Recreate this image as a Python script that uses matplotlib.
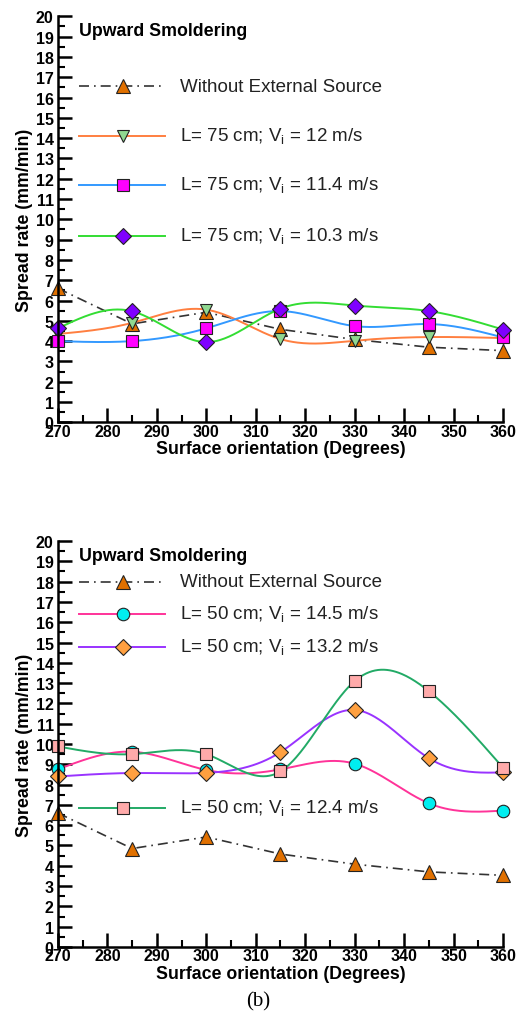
import matplotlib
matplotlib.use("Agg")
import matplotlib.pyplot as plt
import numpy as np
from matplotlib.ticker import MultipleLocator

plt.rcParams['font.family'] = ['Liberation Sans', 'DejaVu Sans']

angles = [270, 285, 300, 315, 330, 345, 360]

# no external source (same in both panels)
no_source = [6.6, 4.85, 5.42, 4.58, 4.08, 3.7, 3.53]

# panel (a): L = 75 cm
l75_v12 = [4.35, 4.9, 5.55, 4.1, 4.02, 4.2, 4.15]
l75_v114 = [4.0, 4.0, 4.63, 5.48, 4.74, 4.84, 4.18]
l75_v103 = [4.63, 5.47, 3.95, 5.6, 5.75, 5.48, 4.57]

# panel (b): L = 50 cm
l50_v145 = [8.75, 9.62, 8.72, 8.75, 9.03, 7.08, 6.72]
l50_v132 = [8.4, 8.57, 8.58, 9.6, 11.68, 9.3, 8.6]
l50_v124 = [9.88, 9.5, 9.5, 8.65, 13.1, 12.6, 8.83]


def spline(x, y, n=300):
    # natural cubic spline through the points, only used for the drawn curve
    x = np.asarray(x, float)
    y = np.asarray(y, float)
    k = len(x)
    h = np.diff(x)
    A = np.zeros((k, k))
    r = np.zeros(k)
    A[0, 0] = A[-1, -1] = 1
    for i in range(1, k - 1):
        A[i, i - 1] = h[i - 1]
        A[i, i] = 2 * (h[i - 1] + h[i])
        A[i, i + 1] = h[i]
        r[i] = 6 * ((y[i + 1] - y[i]) / h[i] - (y[i] - y[i - 1]) / h[i - 1])
    m = np.linalg.solve(A, r)
    xs = np.linspace(x[0], x[-1], n)
    idx = np.clip(np.searchsorted(x, xs) - 1, 0, k - 2)
    t = xs - x[idx]
    hi = h[idx]
    a = y[idx]
    b = (y[idx + 1] - y[idx]) / hi - hi * (2 * m[idx] + m[idx + 1]) / 6
    c = m[idx] / 2
    d = (m[idx + 1] - m[idx]) / (6 * hi)
    return xs, a + b * t + c * t ** 2 + d * t ** 3


fig = plt.figure(figsize=(5.17, 10.2), dpi=100)
ax1 = fig.add_axes([0.112, 0.585, 0.861, 0.398])
ax2 = fig.add_axes([0.112, 0.0706, 0.861, 0.398])

ns_style = dict(color='#333333', lw=1.2, ls=(0, (6, 3, 1, 3)))


def series(ax, y, lc, marker, mfc, ms, dashed=False):
    if dashed:
        ax.plot(angles, y, **ns_style, zorder=2)
    else:
        xs, ys = spline(angles, y)
        ax.plot(xs, ys, color=lc, lw=1.4, zorder=2)
    ax.plot(angles, y, ls='none', marker=marker, ms=ms, mfc=mfc,
            mec='#222222', mew=0.8, clip_on=False, zorder=3)


def legend_entry(ax, ypos, lc, marker, mfc, ms, text, dashed=False):
    xl = [0.048, 0.24]
    if dashed:
        ax.plot(xl, [ypos, ypos], transform=ax.transAxes, **ns_style)
    else:
        ax.plot(xl, [ypos, ypos], transform=ax.transAxes, color=lc, lw=1.4)
    ax.plot([0.146], [ypos], transform=ax.transAxes, ls='none', marker=marker,
            ms=ms, mfc=mfc, mec='#222222', mew=0.8)
    ax.text(0.275, ypos, text, transform=ax.transAxes, fontsize=13.5,
            va='center', ha='left', color='#222222')


def style_axes(ax):
    ax.set_xlim(270, 360)
    ax.set_ylim(0, 20)
    ax.spines['top'].set_visible(False)
    ax.spines['right'].set_visible(False)
    ax.spines['left'].set_linewidth(1.8)
    ax.spines['bottom'].set_linewidth(1.8)
    ax.spines['left'].set_zorder(4)
    ax.spines['bottom'].set_zorder(4)
    ax.xaxis.set_major_locator(MultipleLocator(10))
    ax.xaxis.set_minor_locator(MultipleLocator(5))
    ax.yaxis.set_major_locator(MultipleLocator(1))
    ax.yaxis.set_minor_locator(MultipleLocator(0.5))
    ax.tick_params(which='major', direction='in', length=10, width=1.8,
                   labelsize=11.5, pad=1)
    ax.tick_params(which='minor', direction='in', length=5, width=1.5)
    ax.tick_params(axis='y', pad=3)
    for lab in ax.get_xticklabels() + ax.get_yticklabels():
        lab.set_fontweight('bold')
    ax.set_xlabel('Surface orientation (Degrees)', fontsize=12.8,
                  fontweight='bold', labelpad=1)
    ax.set_ylabel('Spread rate (mm/min)', fontsize=12.8, fontweight='bold',
                  labelpad=2)
    ax.text(0.048, 0.985, 'Upward Smoldering', transform=ax.transAxes,
            fontsize=12.8, fontweight='bold', va='top', ha='left')


# panel (a)
series(ax1, no_source, None, '^', '#E07000', 10, dashed=True)
series(ax1, l75_v12, '#FF7F40', 'v', '#90D890', 9)
series(ax1, l75_v114, '#3399FF', 's', '#FF00FF', 8)
series(ax1, l75_v103, '#33DD33', 'D', '#7F00FF', 8)
legend_entry(ax1, 16.55 / 20, None, '^', '#E07000', 10,
             'Without External Source', dashed=True)
legend_entry(ax1, 14.1 / 20, '#FF7F40', 'v', '#90D890', 9,
             r'L= 75 cm; V$_{\mathregular{i}}$ = 12 m/s')
legend_entry(ax1, 11.7 / 20, '#3399FF', 's', '#FF00FF', 8,
             r'L= 75 cm; V$_{\mathregular{i}}$ = 11.4 m/s')
legend_entry(ax1, 9.2 / 20, '#33DD33', 'D', '#7F00FF', 8,
             r'L= 75 cm; V$_{\mathregular{i}}$ = 10.3 m/s')
style_axes(ax1)

# panel (b)
series(ax2, no_source, None, '^', '#E07000', 10, dashed=True)
series(ax2, l50_v145, '#FF3399', 'o', '#00EEF0', 9)
series(ax2, l50_v132, '#9933FF', 'D', '#FFA040', 8)
series(ax2, l50_v124, '#22AA66', 's', '#FFAAAA', 8)
legend_entry(ax2, 18.0 / 20, None, '^', '#E07000', 10,
             'Without External Source', dashed=True)
legend_entry(ax2, 16.4 / 20, '#FF3399', 'o', '#00EEF0', 9,
             r'L= 50 cm; V$_{\mathregular{i}}$ = 14.5 m/s')
legend_entry(ax2, 14.8 / 20, '#9933FF', 'D', '#FFA040', 8,
             r'L= 50 cm; V$_{\mathregular{i}}$ = 13.2 m/s')
legend_entry(ax2, 6.85 / 20, '#22AA66', 's', '#FFAAAA', 8,
             r'L= 50 cm; V$_{\mathregular{i}}$ = 12.4 m/s')
style_axes(ax2)

fig.text(0.5, 0.008, '(b)', fontsize=15, family='Liberation Serif',
         ha='center', va='bottom')

fig.savefig('out.png', dpi=100)
